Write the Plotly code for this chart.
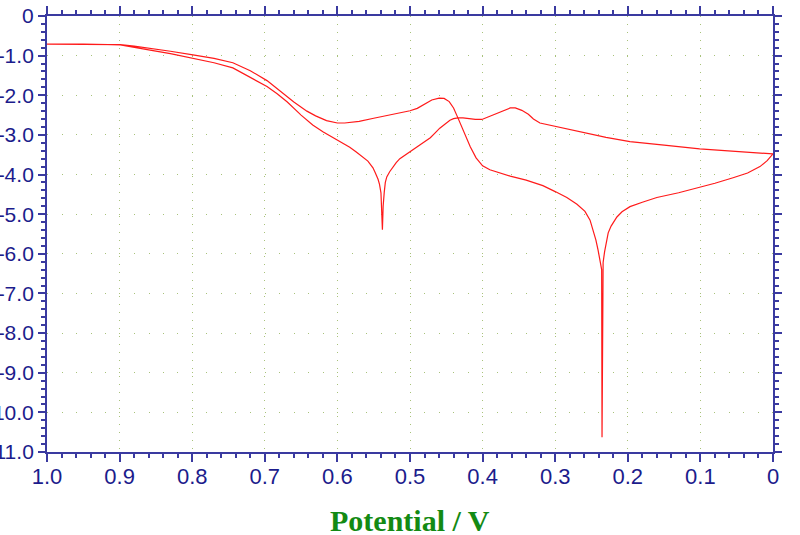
import plotly.graph_objects as go

# potential (V) and log current
potencial = [
    1.000, 0.950, 0.910, 0.899, 0.880, 0.858, 0.830, 0.799, 0.770, 0.744,
    0.720, 0.697, 0.680, 0.660, 0.642, 0.630, 0.615, 0.600, 0.590, 0.570,
    0.550, 0.520, 0.500, 0.490, 0.482, 0.470, 0.460, 0.453, 0.446, 0.440,
    0.434, 0.428, 0.424, 0.417, 0.409, 0.400, 0.390, 0.375, 0.362, 0.340,
    0.317, 0.300, 0.284, 0.270, 0.259, 0.252, 0.248, 0.244, 0.241, 0.238,
    0.236, 0.2355, 0.2352, 0.234, 0.232, 0.229, 0.227, 0.223, 0.220, 0.215,
    0.208, 0.197, 0.180, 0.160, 0.130, 0.101, 0.080, 0.055, 0.035, 0.018,
    0.008, 0.000,
    0.050, 0.101, 0.150, 0.197, 0.230, 0.252, 0.275, 0.298, 0.321, 0.330,
    0.337, 0.346, 0.355, 0.362, 0.369, 0.380, 0.390, 0.401, 0.410, 0.417,
    0.427, 0.434, 0.440, 0.445, 0.452, 0.459, 0.466, 0.472, 0.486, 0.500,
    0.508, 0.514, 0.519, 0.523, 0.528, 0.532, 0.534, 0.5355, 0.537, 0.538,
    0.539, 0.540, 0.542, 0.544, 0.548, 0.551, 0.558, 0.565, 0.574, 0.583,
    0.595, 0.606, 0.620, 0.634, 0.650, 0.669, 0.683, 0.697, 0.720, 0.744,
    0.770, 0.799, 0.830, 0.858, 0.880, 0.899, 0.950, 1.000,
]
log_corrente = [
    -0.71, -0.71, -0.71, -0.72, -0.76, -0.81, -0.89, -0.98, -1.07, -1.18,
    -1.38, -1.63, -1.88, -2.17, -2.40, -2.52, -2.64, -2.70, -2.70, -2.66,
    -2.58, -2.47, -2.39, -2.33, -2.24, -2.12, -2.07, -2.08, -2.16, -2.32,
    -2.57, -2.82, -3.00, -3.30, -3.58, -3.78, -3.88, -3.97, -4.04, -4.14,
    -4.28, -4.43, -4.58, -4.75, -4.93, -5.15, -5.39, -5.65, -5.90, -6.15,
    -6.40, -10.63, -8.46, -6.22, -5.95, -5.65, -5.47, -5.30, -5.21, -5.07,
    -4.94, -4.81, -4.70, -4.58, -4.46, -4.33, -4.22, -4.08, -3.96, -3.80,
    -3.65, -3.48,
    -3.42, -3.35, -3.26, -3.17, -3.06, -2.97, -2.88, -2.80, -2.70, -2.60,
    -2.48, -2.38, -2.32, -2.32, -2.37, -2.46, -2.54, -2.61, -2.61, -2.59,
    -2.57, -2.57, -2.59, -2.63, -2.72, -2.83, -2.96, -3.07, -3.25, -3.42,
    -3.52, -3.60, -3.70, -3.80, -3.93, -4.06, -4.20, -4.45, -4.80, -5.39,
    -4.80, -4.46, -4.25, -4.12, -3.95, -3.83, -3.66, -3.55, -3.43, -3.31,
    -3.19, -3.07, -2.92, -2.75, -2.50, -2.17, -1.96, -1.78, -1.55, -1.31,
    -1.18, -1.06, -0.95, -0.86, -0.79, -0.73, -0.71, -0.71,
]

x_ticks = [1.0, 0.9, 0.8, 0.7, 0.6, 0.5, 0.4, 0.3, 0.2, 0.1, 0.0]
x_labels = ["1.0", "0.9", "0.8", "0.7", "0.6", "0.5", "0.4", "0.3", "0.2", "0.1", "0"]
y_ticks = [0, -1, -2, -3, -4, -5, -6, -7, -8, -9, -10, -11]
y_labels = ["0", "-1.0", "-2.0", "-3.0", "-4.0", "-5.0", "-6.0", "-7.0", "-8.0",
            "-9.0", "-10.0", "-11.0"]

AZUL = "#3a3aa0"
TEXTO = "#1c1c8c"
GRADE = "#a8c27a"
FONTE = "Liberation Sans Narrow, Liberation Sans, Arial, sans-serif"

fig = go.Figure(
    go.Scatter(
        x=potencial,
        y=log_corrente,
        mode="lines",
        line={"color": "#ff1a1a", "width": 1.2},
        hoverinfo="skip",
    )
)

eixo = {
    "showline": True,
    "linecolor": AZUL,
    "linewidth": 2,
    "mirror": "allticks",
    "ticks": "outside",
    "tickcolor": AZUL,
    "tickwidth": 2,
    "zeroline": False,
    "showgrid": True,
    "gridcolor": GRADE,
    "gridwidth": 1,
    "automargin": False,
}

fig.update_layout(
    width=800,
    height=535,
    plot_bgcolor="white",
    paper_bgcolor="white",
    showlegend=False,
    margin={"l": 47, "r": 27, "t": 16, "b": 83},
    xaxis={
        **eixo,
        "range": [1.0, 0.0],
        "tickvals": x_ticks,
        "ticktext": x_labels,
        "ticklen": 8,
        "tickfont": {"family": FONTE, "size": 22, "color": TEXTO},
        "griddash": "1px,7px",
        "ticklabelstandoff": -4,
        "minor": {"tick0": 0, "dtick": 0.02, "ticks": "outside", "ticklen": 4,
                  "tickcolor": AZUL, "tickwidth": 1.5, "showgrid": False},
    },
    yaxis={
        **eixo,
        "range": [-11, 0],
        "tickvals": y_ticks,
        "ticktext": y_labels,
        "ticklen": 7,
        "tickfont": {"family": FONTE, "size": 21, "color": TEXTO},
        "griddash": "1px,13.5px",
        "ticklabelstandoff": 0,
        "minor": {"tick0": 0, "dtick": 0.2, "ticks": "outside", "ticklen": 4,
                  "tickcolor": AZUL, "tickwidth": 1.5, "showgrid": False},
    },
    annotations=[{
        "text": "<b>Potential / V</b>",
        "xref": "paper", "yref": "paper",
        "x": 0.5, "y": -0.156,
        "xanchor": "center", "yanchor": "middle",
        "showarrow": False,
        "font": {"family": "Liberation Serif, Times New Roman, serif", "size": 30,
                 "color": "#138a13"},
    }],
)

# tira a margem padrao de 8px do body para o grafico ocupar a janela toda
fig.write_html(
    "out.html",
    config={"displayModeBar": False},
    post_script="document.body.style.margin='0';",
)
